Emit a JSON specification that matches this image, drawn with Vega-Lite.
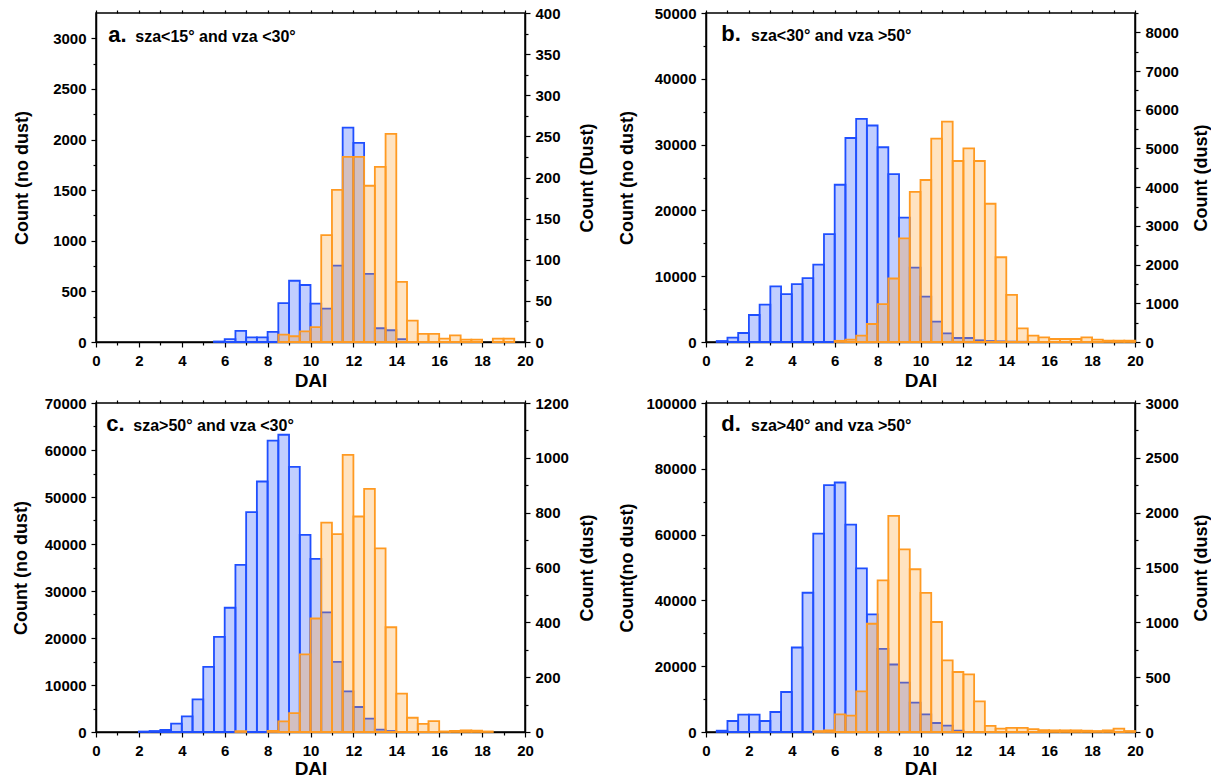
{
  "$schema": "https://vega.github.io/schema/vega-lite/v6.json",
  "padding": {"left": 11, "top": 5, "right": 0, "bottom": 0},
  "background": "white",
  "data": {"values": [
    {"panel": "a", "series": "no dust", "bin_start": 5.5, "bin_end": 6.0, "count": 5},
    {"panel": "a", "series": "no dust", "bin_start": 6.0, "bin_end": 6.5, "count": 28},
    {"panel": "a", "series": "no dust", "bin_start": 6.5, "bin_end": 7.0, "count": 110},
    {"panel": "a", "series": "no dust", "bin_start": 7.0, "bin_end": 7.5, "count": 45},
    {"panel": "a", "series": "no dust", "bin_start": 7.5, "bin_end": 8.0, "count": 45},
    {"panel": "a", "series": "no dust", "bin_start": 8.0, "bin_end": 8.5, "count": 100},
    {"panel": "a", "series": "no dust", "bin_start": 8.5, "bin_end": 9.0, "count": 385},
    {"panel": "a", "series": "no dust", "bin_start": 9.0, "bin_end": 9.5, "count": 605},
    {"panel": "a", "series": "no dust", "bin_start": 9.5, "bin_end": 10.0, "count": 563},
    {"panel": "a", "series": "no dust", "bin_start": 10.0, "bin_end": 10.5, "count": 380},
    {"panel": "a", "series": "no dust", "bin_start": 10.5, "bin_end": 11.0, "count": 330},
    {"panel": "a", "series": "no dust", "bin_start": 11.0, "bin_end": 11.5, "count": 755},
    {"panel": "a", "series": "no dust", "bin_start": 11.5, "bin_end": 12.0, "count": 2117},
    {"panel": "a", "series": "no dust", "bin_start": 12.0, "bin_end": 12.5, "count": 1968},
    {"panel": "a", "series": "no dust", "bin_start": 12.5, "bin_end": 13.0, "count": 672},
    {"panel": "a", "series": "no dust", "bin_start": 13.0, "bin_end": 13.5, "count": 136},
    {"panel": "a", "series": "no dust", "bin_start": 13.5, "bin_end": 14.0, "count": 116},
    {"panel": "a", "series": "no dust", "bin_start": 14.0, "bin_end": 14.5, "count": 28},
    {"panel": "a", "series": "dust", "bin_start": 8.5, "bin_end": 9.0, "count": 9},
    {"panel": "a", "series": "dust", "bin_start": 9.0, "bin_end": 9.5, "count": 7},
    {"panel": "a", "series": "dust", "bin_start": 9.5, "bin_end": 10.0, "count": 13},
    {"panel": "a", "series": "dust", "bin_start": 10.0, "bin_end": 10.5, "count": 18},
    {"panel": "a", "series": "dust", "bin_start": 10.5, "bin_end": 11.0, "count": 130},
    {"panel": "a", "series": "dust", "bin_start": 11.0, "bin_end": 11.5, "count": 185},
    {"panel": "a", "series": "dust", "bin_start": 11.5, "bin_end": 12.0, "count": 225},
    {"panel": "a", "series": "dust", "bin_start": 12.0, "bin_end": 12.5, "count": 225},
    {"panel": "a", "series": "dust", "bin_start": 12.5, "bin_end": 13.0, "count": 190},
    {"panel": "a", "series": "dust", "bin_start": 13.0, "bin_end": 13.5, "count": 213},
    {"panel": "a", "series": "dust", "bin_start": 13.5, "bin_end": 14.0, "count": 253},
    {"panel": "a", "series": "dust", "bin_start": 14.0, "bin_end": 14.5, "count": 73},
    {"panel": "a", "series": "dust", "bin_start": 14.5, "bin_end": 15.0, "count": 26},
    {"panel": "a", "series": "dust", "bin_start": 15.0, "bin_end": 15.5, "count": 10},
    {"panel": "a", "series": "dust", "bin_start": 15.5, "bin_end": 16.0, "count": 10},
    {"panel": "a", "series": "dust", "bin_start": 16.0, "bin_end": 16.5, "count": 4},
    {"panel": "a", "series": "dust", "bin_start": 16.5, "bin_end": 17.0, "count": 8},
    {"panel": "a", "series": "dust", "bin_start": 17.0, "bin_end": 17.5, "count": 3},
    {"panel": "a", "series": "dust", "bin_start": 17.5, "bin_end": 18.0, "count": 3},
    {"panel": "a", "series": "dust", "bin_start": 18.5, "bin_end": 19.0, "count": 4},
    {"panel": "a", "series": "dust", "bin_start": 19.0, "bin_end": 19.5, "count": 4},

    {"panel": "b", "series": "no dust", "bin_start": 0.5, "bin_end": 1.0, "count": 150},
    {"panel": "b", "series": "no dust", "bin_start": 1.0, "bin_end": 1.5, "count": 650},
    {"panel": "b", "series": "no dust", "bin_start": 1.5, "bin_end": 2.0, "count": 1370},
    {"panel": "b", "series": "no dust", "bin_start": 2.0, "bin_end": 2.5, "count": 4100},
    {"panel": "b", "series": "no dust", "bin_start": 2.5, "bin_end": 3.0, "count": 5670},
    {"panel": "b", "series": "no dust", "bin_start": 3.0, "bin_end": 3.5, "count": 8460},
    {"panel": "b", "series": "no dust", "bin_start": 3.5, "bin_end": 4.0, "count": 7290},
    {"panel": "b", "series": "no dust", "bin_start": 4.0, "bin_end": 4.5, "count": 8800},
    {"panel": "b", "series": "no dust", "bin_start": 4.5, "bin_end": 5.0, "count": 9700},
    {"panel": "b", "series": "no dust", "bin_start": 5.0, "bin_end": 5.5, "count": 11750},
    {"panel": "b", "series": "no dust", "bin_start": 5.5, "bin_end": 6.0, "count": 16400},
    {"panel": "b", "series": "no dust", "bin_start": 6.0, "bin_end": 6.5, "count": 23900},
    {"panel": "b", "series": "no dust", "bin_start": 6.5, "bin_end": 7.0, "count": 31000},
    {"panel": "b", "series": "no dust", "bin_start": 7.0, "bin_end": 7.5, "count": 33900},
    {"panel": "b", "series": "no dust", "bin_start": 7.5, "bin_end": 8.0, "count": 32900},
    {"panel": "b", "series": "no dust", "bin_start": 8.0, "bin_end": 8.5, "count": 29600},
    {"panel": "b", "series": "no dust", "bin_start": 8.5, "bin_end": 9.0, "count": 25500},
    {"panel": "b", "series": "no dust", "bin_start": 9.0, "bin_end": 9.5, "count": 18900},
    {"panel": "b", "series": "no dust", "bin_start": 9.5, "bin_end": 10.0, "count": 11300},
    {"panel": "b", "series": "no dust", "bin_start": 10.0, "bin_end": 10.5, "count": 6900},
    {"panel": "b", "series": "no dust", "bin_start": 10.5, "bin_end": 11.0, "count": 3090},
    {"panel": "b", "series": "no dust", "bin_start": 11.0, "bin_end": 11.5, "count": 1320},
    {"panel": "b", "series": "no dust", "bin_start": 11.5, "bin_end": 12.0, "count": 610},
    {"panel": "b", "series": "no dust", "bin_start": 12.0, "bin_end": 12.5, "count": 610},
    {"panel": "b", "series": "no dust", "bin_start": 12.5, "bin_end": 13.0, "count": 260},
    {"panel": "b", "series": "no dust", "bin_start": 13.0, "bin_end": 13.5, "count": 150},
    {"panel": "b", "series": "no dust", "bin_start": 13.5, "bin_end": 14.0, "count": 100},
    {"panel": "b", "series": "no dust", "bin_start": 14.0, "bin_end": 14.5, "count": 60},
    {"panel": "b", "series": "no dust", "bin_start": 14.5, "bin_end": 15.0, "count": 40},
    {"panel": "b", "series": "dust", "bin_start": 6.0, "bin_end": 6.5, "count": 30},
    {"panel": "b", "series": "dust", "bin_start": 6.5, "bin_end": 7.0, "count": 60},
    {"panel": "b", "series": "dust", "bin_start": 7.0, "bin_end": 7.5, "count": 163},
    {"panel": "b", "series": "dust", "bin_start": 7.5, "bin_end": 8.0, "count": 465},
    {"panel": "b", "series": "dust", "bin_start": 8.0, "bin_end": 8.5, "count": 980},
    {"panel": "b", "series": "dust", "bin_start": 8.5, "bin_end": 9.0, "count": 1640},
    {"panel": "b", "series": "dust", "bin_start": 9.0, "bin_end": 9.5, "count": 2675},
    {"panel": "b", "series": "dust", "bin_start": 9.5, "bin_end": 10.0, "count": 3880},
    {"panel": "b", "series": "dust", "bin_start": 10.0, "bin_end": 10.5, "count": 4185},
    {"panel": "b", "series": "dust", "bin_start": 10.5, "bin_end": 11.0, "count": 5255},
    {"panel": "b", "series": "dust", "bin_start": 11.0, "bin_end": 11.5, "count": 5695},
    {"panel": "b", "series": "dust", "bin_start": 11.5, "bin_end": 12.0, "count": 4676},
    {"panel": "b", "series": "dust", "bin_start": 12.0, "bin_end": 12.5, "count": 5004},
    {"panel": "b", "series": "dust", "bin_start": 12.5, "bin_end": 13.0, "count": 4676},
    {"panel": "b", "series": "dust", "bin_start": 13.0, "bin_end": 13.5, "count": 3572},
    {"panel": "b", "series": "dust", "bin_start": 13.5, "bin_end": 14.0, "count": 2190},
    {"panel": "b", "series": "dust", "bin_start": 14.0, "bin_end": 14.5, "count": 1220},
    {"panel": "b", "series": "dust", "bin_start": 14.5, "bin_end": 15.0, "count": 354},
    {"panel": "b", "series": "dust", "bin_start": 15.0, "bin_end": 15.5, "count": 163},
    {"panel": "b", "series": "dust", "bin_start": 15.5, "bin_end": 16.0, "count": 120},
    {"panel": "b", "series": "dust", "bin_start": 16.0, "bin_end": 16.5, "count": 78},
    {"panel": "b", "series": "dust", "bin_start": 16.5, "bin_end": 17.0, "count": 78},
    {"panel": "b", "series": "dust", "bin_start": 17.0, "bin_end": 17.5, "count": 78},
    {"panel": "b", "series": "dust", "bin_start": 17.5, "bin_end": 18.0, "count": 120},
    {"panel": "b", "series": "dust", "bin_start": 18.0, "bin_end": 18.5, "count": 60},
    {"panel": "b", "series": "dust", "bin_start": 18.5, "bin_end": 19.0, "count": 35},
    {"panel": "b", "series": "dust", "bin_start": 19.0, "bin_end": 19.5, "count": 35},
    {"panel": "b", "series": "dust", "bin_start": 19.5, "bin_end": 20.0, "count": 35},

    {"panel": "c", "series": "no dust", "bin_start": 2.0, "bin_end": 2.5, "count": 100},
    {"panel": "c", "series": "no dust", "bin_start": 2.5, "bin_end": 3.0, "count": 210},
    {"panel": "c", "series": "no dust", "bin_start": 3.0, "bin_end": 3.5, "count": 430},
    {"panel": "c", "series": "no dust", "bin_start": 3.5, "bin_end": 4.0, "count": 1770},
    {"panel": "c", "series": "no dust", "bin_start": 4.0, "bin_end": 4.5, "count": 3340},
    {"panel": "c", "series": "no dust", "bin_start": 4.5, "bin_end": 5.0, "count": 6950},
    {"panel": "c", "series": "no dust", "bin_start": 5.0, "bin_end": 5.5, "count": 13860},
    {"panel": "c", "series": "no dust", "bin_start": 5.5, "bin_end": 6.0, "count": 20260},
    {"panel": "c", "series": "no dust", "bin_start": 6.0, "bin_end": 6.5, "count": 26440},
    {"panel": "c", "series": "no dust", "bin_start": 6.5, "bin_end": 7.0, "count": 35540},
    {"panel": "c", "series": "no dust", "bin_start": 7.0, "bin_end": 7.5, "count": 46770},
    {"panel": "c", "series": "no dust", "bin_start": 7.5, "bin_end": 8.0, "count": 53300},
    {"panel": "c", "series": "no dust", "bin_start": 8.0, "bin_end": 8.5, "count": 61980},
    {"panel": "c", "series": "no dust", "bin_start": 8.5, "bin_end": 9.0, "count": 63250},
    {"panel": "c", "series": "no dust", "bin_start": 9.0, "bin_end": 9.5, "count": 56430},
    {"panel": "c", "series": "no dust", "bin_start": 9.5, "bin_end": 10.0, "count": 41930},
    {"panel": "c", "series": "no dust", "bin_start": 10.0, "bin_end": 10.5, "count": 36820},
    {"panel": "c", "series": "no dust", "bin_start": 10.5, "bin_end": 11.0, "count": 25440},
    {"panel": "c", "series": "no dust", "bin_start": 11.0, "bin_end": 11.5, "count": 14930},
    {"panel": "c", "series": "no dust", "bin_start": 11.5, "bin_end": 12.0, "count": 8650},
    {"panel": "c", "series": "no dust", "bin_start": 12.0, "bin_end": 12.5, "count": 5320},
    {"panel": "c", "series": "no dust", "bin_start": 12.5, "bin_end": 13.0, "count": 2840},
    {"panel": "c", "series": "no dust", "bin_start": 13.0, "bin_end": 13.5, "count": 500},
    {"panel": "c", "series": "no dust", "bin_start": 13.5, "bin_end": 14.0, "count": 210},
    {"panel": "c", "series": "dust", "bin_start": 6.5, "bin_end": 7.0, "count": 3},
    {"panel": "c", "series": "dust", "bin_start": 8.0, "bin_end": 8.5, "count": 4},
    {"panel": "c", "series": "dust", "bin_start": 8.5, "bin_end": 9.0, "count": 39},
    {"panel": "c", "series": "dust", "bin_start": 9.0, "bin_end": 9.5, "count": 69},
    {"panel": "c", "series": "dust", "bin_start": 9.5, "bin_end": 10.0, "count": 283},
    {"panel": "c", "series": "dust", "bin_start": 10.0, "bin_end": 10.5, "count": 414},
    {"panel": "c", "series": "dust", "bin_start": 10.5, "bin_end": 11.0, "count": 764},
    {"panel": "c", "series": "dust", "bin_start": 11.0, "bin_end": 11.5, "count": 722},
    {"panel": "c", "series": "dust", "bin_start": 11.5, "bin_end": 12.0, "count": 1011},
    {"panel": "c", "series": "dust", "bin_start": 12.0, "bin_end": 12.5, "count": 786},
    {"panel": "c", "series": "dust", "bin_start": 12.5, "bin_end": 13.0, "count": 887},
    {"panel": "c", "series": "dust", "bin_start": 13.0, "bin_end": 13.5, "count": 670},
    {"panel": "c", "series": "dust", "bin_start": 13.5, "bin_end": 14.0, "count": 382},
    {"panel": "c", "series": "dust", "bin_start": 14.0, "bin_end": 14.5, "count": 140},
    {"panel": "c", "series": "dust", "bin_start": 14.5, "bin_end": 15.0, "count": 52},
    {"panel": "c", "series": "dust", "bin_start": 15.0, "bin_end": 15.5, "count": 30},
    {"panel": "c", "series": "dust", "bin_start": 15.5, "bin_end": 16.0, "count": 40},
    {"panel": "c", "series": "dust", "bin_start": 16.0, "bin_end": 16.5, "count": 2},
    {"panel": "c", "series": "dust", "bin_start": 16.5, "bin_end": 17.0, "count": 4},
    {"panel": "c", "series": "dust", "bin_start": 17.0, "bin_end": 17.5, "count": 6},
    {"panel": "c", "series": "dust", "bin_start": 17.5, "bin_end": 18.0, "count": 5},
    {"panel": "c", "series": "dust", "bin_start": 18.0, "bin_end": 18.5, "count": 2},

    {"panel": "d", "series": "no dust", "bin_start": 0.5, "bin_end": 1.0, "count": 400},
    {"panel": "d", "series": "no dust", "bin_start": 1.0, "bin_end": 1.5, "count": 3340},
    {"panel": "d", "series": "no dust", "bin_start": 1.5, "bin_end": 2.0, "count": 5270},
    {"panel": "d", "series": "no dust", "bin_start": 2.0, "bin_end": 2.5, "count": 5270},
    {"panel": "d", "series": "no dust", "bin_start": 2.5, "bin_end": 3.0, "count": 3340},
    {"panel": "d", "series": "no dust", "bin_start": 3.0, "bin_end": 3.5, "count": 6080},
    {"panel": "d", "series": "no dust", "bin_start": 3.5, "bin_end": 4.0, "count": 12160},
    {"panel": "d", "series": "no dust", "bin_start": 4.0, "bin_end": 4.5, "count": 25690},
    {"panel": "d", "series": "no dust", "bin_start": 4.5, "bin_end": 5.0, "count": 42330},
    {"panel": "d", "series": "no dust", "bin_start": 5.0, "bin_end": 5.5, "count": 60300},
    {"panel": "d", "series": "no dust", "bin_start": 5.5, "bin_end": 6.0, "count": 75030},
    {"panel": "d", "series": "no dust", "bin_start": 6.0, "bin_end": 6.5, "count": 75840},
    {"panel": "d", "series": "no dust", "bin_start": 6.5, "bin_end": 7.0, "count": 63050},
    {"panel": "d", "series": "no dust", "bin_start": 7.0, "bin_end": 7.5, "count": 49750},
    {"panel": "d", "series": "no dust", "bin_start": 7.5, "bin_end": 8.0, "count": 35740},
    {"panel": "d", "series": "no dust", "bin_start": 8.0, "bin_end": 8.5, "count": 25280},
    {"panel": "d", "series": "no dust", "bin_start": 8.5, "bin_end": 9.0, "count": 20510},
    {"panel": "d", "series": "no dust", "bin_start": 9.0, "bin_end": 9.5, "count": 15030},
    {"panel": "d", "series": "no dust", "bin_start": 9.5, "bin_end": 10.0, "count": 8920},
    {"panel": "d", "series": "no dust", "bin_start": 10.0, "bin_end": 10.5, "count": 5370},
    {"panel": "d", "series": "no dust", "bin_start": 10.5, "bin_end": 11.0, "count": 2740},
    {"panel": "d", "series": "no dust", "bin_start": 11.0, "bin_end": 11.5, "count": 1930},
    {"panel": "d", "series": "no dust", "bin_start": 11.5, "bin_end": 12.0, "count": 400},
    {"panel": "d", "series": "dust", "bin_start": 5.0, "bin_end": 5.5, "count": 8},
    {"panel": "d", "series": "dust", "bin_start": 5.5, "bin_end": 6.0, "count": 15},
    {"panel": "d", "series": "dust", "bin_start": 6.0, "bin_end": 6.5, "count": 160},
    {"panel": "d", "series": "dust", "bin_start": 6.5, "bin_end": 7.0, "count": 150},
    {"panel": "d", "series": "dust", "bin_start": 7.0, "bin_end": 7.5, "count": 371},
    {"panel": "d", "series": "dust", "bin_start": 7.5, "bin_end": 8.0, "count": 987},
    {"panel": "d", "series": "dust", "bin_start": 8.0, "bin_end": 8.5, "count": 1383},
    {"panel": "d", "series": "dust", "bin_start": 8.5, "bin_end": 9.0, "count": 1970},
    {"panel": "d", "series": "dust", "bin_start": 9.0, "bin_end": 9.5, "count": 1666},
    {"panel": "d", "series": "dust", "bin_start": 9.5, "bin_end": 10.0, "count": 1484},
    {"panel": "d", "series": "dust", "bin_start": 10.0, "bin_end": 10.5, "count": 1268},
    {"panel": "d", "series": "dust", "bin_start": 10.5, "bin_end": 11.0, "count": 1003},
    {"panel": "d", "series": "dust", "bin_start": 11.0, "bin_end": 11.5, "count": 654},
    {"panel": "d", "series": "dust", "bin_start": 11.5, "bin_end": 12.0, "count": 547},
    {"panel": "d", "series": "dust", "bin_start": 12.0, "bin_end": 12.5, "count": 526},
    {"panel": "d", "series": "dust", "bin_start": 12.5, "bin_end": 13.0, "count": 280},
    {"panel": "d", "series": "dust", "bin_start": 13.0, "bin_end": 13.5, "count": 55},
    {"panel": "d", "series": "dust", "bin_start": 13.5, "bin_end": 14.0, "count": 30},
    {"panel": "d", "series": "dust", "bin_start": 14.0, "bin_end": 14.5, "count": 37},
    {"panel": "d", "series": "dust", "bin_start": 14.5, "bin_end": 15.0, "count": 37},
    {"panel": "d", "series": "dust", "bin_start": 15.0, "bin_end": 15.5, "count": 27},
    {"panel": "d", "series": "dust", "bin_start": 15.5, "bin_end": 16.0, "count": 18},
    {"panel": "d", "series": "dust", "bin_start": 16.0, "bin_end": 16.5, "count": 15},
    {"panel": "d", "series": "dust", "bin_start": 16.5, "bin_end": 17.0, "count": 15},
    {"panel": "d", "series": "dust", "bin_start": 17.0, "bin_end": 17.5, "count": 15},
    {"panel": "d", "series": "dust", "bin_start": 17.5, "bin_end": 18.0, "count": 12},
    {"panel": "d", "series": "dust", "bin_start": 18.0, "bin_end": 18.5, "count": 9},
    {"panel": "d", "series": "dust", "bin_start": 18.5, "bin_end": 19.0, "count": 15},
    {"panel": "d", "series": "dust", "bin_start": 19.0, "bin_end": 19.5, "count": 30},
    {"panel": "d", "series": "dust", "bin_start": 19.5, "bin_end": 20.0, "count": 9}
  ]},
  "vconcat": [
    {"hconcat": [
      {"width": 429, "height": 329,
       "layer": [
        {"transform": [{"filter": "datum.panel === 'a' && datum.series === 'no dust'"}],
         "mark": {"type": "bar", "fill": "#1f4fff", "fillOpacity": 0.28, "stroke": "#1f4fff", "strokeWidth": 1.8},
         "encoding": {
           "x": {"field": "bin_start", "type": "quantitative", "scale": {"domain": [0, 20], "nice": false},
                 "axis": {"orient": "bottom", "values": [0,1,2,3,4,5,6,7,8,9,10,11,12,13,14,15,16,17,18,19,20], "labelExpr": "datum.value % 2 === 0 ? datum.label : ''", "tickSize": {"condition": {"test": "datum.value % 2 === 0", "value": 5}, "value": 3}, "labelPadding": 6, "title": "DAI", "titleFontSize": 19, "titleY": 44, "titleBaseline": "alphabetic"}},
           "x2": {"field": "bin_end"},
           "y": {"field": "count", "type": "quantitative", "scale": {"domain": [0, 3250], "nice": false},
                 "axis": {"orient": "left", "values": [0,250,500,750,1000,1250,1500,1750,2000,2250,2500,2750,3000], "labelExpr": "datum.value % 500 === 0 ? datum.label : ''", "tickSize": {"condition": {"test": "datum.value % 500 === 0", "value": 5}, "value": 3}, "title": "Count (no dust)", "titleX": -74, "titleBaseline": "middle", "titleAngle": -90}},
           "y2": {"datum": 0}
         }},
        {"transform": [{"filter": "datum.panel === 'a' && datum.series === 'dust'"}],
         "mark": {"type": "bar", "fill": "#ff9a22", "fillOpacity": 0.28, "stroke": "#ff9a22", "strokeWidth": 1.8},
         "encoding": {
           "x": {"field": "bin_start", "type": "quantitative", "scale": {"domain": [0, 20], "nice": false},
                 "axis": {"orient": "top", "values": [0,1,2,3,4,5,6,7,8,9,10,11,12,13,14,15,16,17,18,19,20], "labels": false, "title": null, "domain": false, "tickSize": 3}},
           "x2": {"field": "bin_end"},
           "y": {"field": "count", "type": "quantitative", "scale": {"domain": [0, 400], "nice": false},
                 "axis": {"orient": "right", "values": [0,25,50,75,100,125,150,175,200,225,250,275,300,325,350,375,400], "labelExpr": "datum.value % 50 === 0 ? datum.label : ''", "tickSize": {"condition": {"test": "datum.value % 50 === 0", "value": 5}, "value": 3}, "title": "Count (Dust)", "titleX": 62, "titleBaseline": "middle", "titleAngle": -90}},
           "y2": {"datum": 0}
         }},
        {"data": {"values": [{}]},
         "mark": {"type": "text", "text": "a.", "font": "Liberation Sans", "fontSize": 22, "fontWeight": "bold", "align": "left", "baseline": "alphabetic", "color": "black"},
         "encoding": {"x": {"datum": 0.57, "type": "quantitative", "axis": null}, "y": {"datum": 2964, "type": "quantitative", "scale": {"domain": [0, 3250], "nice": false}, "axis": null}}},
        {"data": {"values": [{}]},
         "mark": {"type": "text", "text": "sza<15° and vza <30°", "font": "Liberation Sans", "fontSize": 16, "fontWeight": "bold", "align": "left", "baseline": "alphabetic", "color": "black"},
         "encoding": {"x": {"datum": 1.83, "type": "quantitative", "axis": null}, "y": {"datum": 2964, "type": "quantitative", "scale": {"domain": [0, 3250], "nice": false}, "axis": null}}}
       ],
       "resolve": {"scale": {"y": "independent"}, "axis": {"x": "independent"}}
      },
      {"width": 429, "height": 329,
       "layer": [
        {"transform": [{"filter": "datum.panel === 'b' && datum.series === 'no dust'"}],
         "mark": {"type": "bar", "fill": "#1f4fff", "fillOpacity": 0.28, "stroke": "#1f4fff", "strokeWidth": 1.8},
         "encoding": {
           "x": {"field": "bin_start", "type": "quantitative", "scale": {"domain": [0, 20], "nice": false},
                 "axis": {"orient": "bottom", "values": [0,1,2,3,4,5,6,7,8,9,10,11,12,13,14,15,16,17,18,19,20], "labelExpr": "datum.value % 2 === 0 ? datum.label : ''", "tickSize": {"condition": {"test": "datum.value % 2 === 0", "value": 5}, "value": 3}, "labelPadding": 6, "title": "DAI", "titleFontSize": 19, "titleY": 44, "titleBaseline": "alphabetic"}},
           "x2": {"field": "bin_end"},
           "y": {"field": "count", "type": "quantitative", "scale": {"domain": [0, 50000], "nice": false},
                 "axis": {"orient": "left", "values": [0,5000,10000,15000,20000,25000,30000,35000,40000,45000,50000], "labelExpr": "datum.value % 10000 === 0 ? datum.label : ''", "tickSize": {"condition": {"test": "datum.value % 10000 === 0", "value": 5}, "value": 3}, "title": "Count (no dust)", "titleX": -79, "titleBaseline": "middle", "titleAngle": -90}},
           "y2": {"datum": 0}
         }},
        {"transform": [{"filter": "datum.panel === 'b' && datum.series === 'dust'"}],
         "mark": {"type": "bar", "fill": "#ff9a22", "fillOpacity": 0.28, "stroke": "#ff9a22", "strokeWidth": 1.8},
         "encoding": {
           "x": {"field": "bin_start", "type": "quantitative", "scale": {"domain": [0, 20], "nice": false},
                 "axis": {"orient": "top", "values": [0,1,2,3,4,5,6,7,8,9,10,11,12,13,14,15,16,17,18,19,20], "labels": false, "title": null, "domain": false, "tickSize": 3}},
           "x2": {"field": "bin_end"},
           "y": {"field": "count", "type": "quantitative", "scale": {"domain": [0, 8500], "nice": false},
                 "axis": {"orient": "right", "values": [0,500,1000,1500,2000,2500,3000,3500,4000,4500,5000,5500,6000,6500,7000,7500,8000,8500], "labelExpr": "datum.value % 1000 === 0 ? datum.label : ''", "tickSize": {"condition": {"test": "datum.value % 1000 === 0", "value": 5}, "value": 3}, "title": "Count (dust)", "titleX": 66, "titleBaseline": "middle", "titleAngle": -90}},
           "y2": {"datum": 0}
         }},
        {"data": {"values": [{}]},
         "mark": {"type": "text", "text": "b.", "font": "Liberation Sans", "fontSize": 22, "fontWeight": "bold", "align": "left", "baseline": "alphabetic", "color": "black"},
         "encoding": {"x": {"datum": 0.71, "type": "quantitative", "axis": null}, "y": {"datum": 45750, "type": "quantitative", "scale": {"domain": [0, 50000], "nice": false}, "axis": null}}},
        {"data": {"values": [{}]},
         "mark": {"type": "text", "text": "sza<30° and vza >50°", "font": "Liberation Sans", "fontSize": 16, "fontWeight": "bold", "align": "left", "baseline": "alphabetic", "color": "black"},
         "encoding": {"x": {"datum": 2.1, "type": "quantitative", "axis": null}, "y": {"datum": 45750, "type": "quantitative", "scale": {"domain": [0, 50000], "nice": false}, "axis": null}}}
       ],
       "resolve": {"scale": {"y": "independent"}, "axis": {"x": "independent"}}
      }
    ], "spacing": 20},
    {"hconcat": [
      {"width": 429, "height": 329,
       "layer": [
        {"transform": [{"filter": "datum.panel === 'c' && datum.series === 'no dust'"}],
         "mark": {"type": "bar", "fill": "#1f4fff", "fillOpacity": 0.28, "stroke": "#1f4fff", "strokeWidth": 1.8},
         "encoding": {
           "x": {"field": "bin_start", "type": "quantitative", "scale": {"domain": [0, 20], "nice": false},
                 "axis": {"orient": "bottom", "values": [0,1,2,3,4,5,6,7,8,9,10,11,12,13,14,15,16,17,18,19,20], "labelExpr": "datum.value % 2 === 0 ? datum.label : ''", "tickSize": {"condition": {"test": "datum.value % 2 === 0", "value": 5}, "value": 3}, "labelPadding": 6, "title": "DAI", "titleFontSize": 19, "titleY": 42, "titleBaseline": "alphabetic"}},
           "x2": {"field": "bin_end"},
           "y": {"field": "count", "type": "quantitative", "scale": {"domain": [0, 70000], "nice": false},
                 "axis": {"orient": "left", "values": [0,5000,10000,15000,20000,25000,30000,35000,40000,45000,50000,55000,60000,65000,70000], "labelExpr": "datum.value % 10000 === 0 ? datum.label : ''", "tickSize": {"condition": {"test": "datum.value % 10000 === 0", "value": 5}, "value": 3}, "title": "Count (no dust)", "titleX": -75, "titleBaseline": "middle", "titleAngle": -90}},
           "y2": {"datum": 0}
         }},
        {"transform": [{"filter": "datum.panel === 'c' && datum.series === 'dust'"}],
         "mark": {"type": "bar", "fill": "#ff9a22", "fillOpacity": 0.28, "stroke": "#ff9a22", "strokeWidth": 1.8},
         "encoding": {
           "x": {"field": "bin_start", "type": "quantitative", "scale": {"domain": [0, 20], "nice": false},
                 "axis": {"orient": "top", "values": [0,1,2,3,4,5,6,7,8,9,10,11,12,13,14,15,16,17,18,19,20], "labels": false, "title": null, "domain": false, "tickSize": 3}},
           "x2": {"field": "bin_end"},
           "y": {"field": "count", "type": "quantitative", "scale": {"domain": [0, 1200], "nice": false},
                 "axis": {"orient": "right", "values": [0,100,200,300,400,500,600,700,800,900,1000,1100,1200], "labelExpr": "datum.value % 200 === 0 ? datum.label : ''", "tickSize": {"condition": {"test": "datum.value % 200 === 0", "value": 5}, "value": 3}, "title": "Count (dust)", "titleX": 62, "titleBaseline": "middle", "titleAngle": -90}},
           "y2": {"datum": 0}
         }},
        {"data": {"values": [{}]},
         "mark": {"type": "text", "text": "c.", "font": "Liberation Sans", "fontSize": 22, "fontWeight": "bold", "align": "left", "baseline": "alphabetic", "color": "black"},
         "encoding": {"x": {"datum": 0.48, "type": "quantitative", "axis": null}, "y": {"datum": 64050, "type": "quantitative", "scale": {"domain": [0, 70000], "nice": false}, "axis": null}}},
        {"data": {"values": [{}]},
         "mark": {"type": "text", "text": "sza>50° and vza <30°", "font": "Liberation Sans", "fontSize": 16, "fontWeight": "bold", "align": "left", "baseline": "alphabetic", "color": "black"},
         "encoding": {"x": {"datum": 1.74, "type": "quantitative", "axis": null}, "y": {"datum": 64050, "type": "quantitative", "scale": {"domain": [0, 70000], "nice": false}, "axis": null}}}
       ],
       "resolve": {"scale": {"y": "independent"}, "axis": {"x": "independent"}}
      },
      {"width": 429, "height": 329,
       "layer": [
        {"transform": [{"filter": "datum.panel === 'd' && datum.series === 'no dust'"}],
         "mark": {"type": "bar", "fill": "#1f4fff", "fillOpacity": 0.28, "stroke": "#1f4fff", "strokeWidth": 1.8},
         "encoding": {
           "x": {"field": "bin_start", "type": "quantitative", "scale": {"domain": [0, 20], "nice": false},
                 "axis": {"orient": "bottom", "values": [0,1,2,3,4,5,6,7,8,9,10,11,12,13,14,15,16,17,18,19,20], "labelExpr": "datum.value % 2 === 0 ? datum.label : ''", "tickSize": {"condition": {"test": "datum.value % 2 === 0", "value": 5}, "value": 3}, "labelPadding": 6, "title": "DAI", "titleFontSize": 19, "titleY": 42, "titleBaseline": "alphabetic"}},
           "x2": {"field": "bin_end"},
           "y": {"field": "count", "type": "quantitative", "scale": {"domain": [0, 100000], "nice": false},
                 "axis": {"orient": "left", "values": [0,10000,20000,30000,40000,50000,60000,70000,80000,90000,100000], "labelExpr": "datum.value % 20000 === 0 ? datum.label : ''", "tickSize": {"condition": {"test": "datum.value % 20000 === 0", "value": 5}, "value": 3}, "title": "Count(no dust)", "titleX": -79, "titleBaseline": "middle", "titleAngle": -90}},
           "y2": {"datum": 0}
         }},
        {"transform": [{"filter": "datum.panel === 'd' && datum.series === 'dust'"}],
         "mark": {"type": "bar", "fill": "#ff9a22", "fillOpacity": 0.28, "stroke": "#ff9a22", "strokeWidth": 1.8},
         "encoding": {
           "x": {"field": "bin_start", "type": "quantitative", "scale": {"domain": [0, 20], "nice": false},
                 "axis": {"orient": "top", "values": [0,1,2,3,4,5,6,7,8,9,10,11,12,13,14,15,16,17,18,19,20], "labels": false, "title": null, "domain": false, "tickSize": 3}},
           "x2": {"field": "bin_end"},
           "y": {"field": "count", "type": "quantitative", "scale": {"domain": [0, 3000], "nice": false},
                 "axis": {"orient": "right", "values": [0,250,500,750,1000,1250,1500,1750,2000,2250,2500,2750,3000], "labelExpr": "datum.value % 500 === 0 ? datum.label : ''", "tickSize": {"condition": {"test": "datum.value % 500 === 0", "value": 5}, "value": 3}, "title": "Count (dust)", "titleX": 66, "titleBaseline": "middle", "titleAngle": -90}},
           "y2": {"datum": 0}
         }},
        {"data": {"values": [{}]},
         "mark": {"type": "text", "text": "d.", "font": "Liberation Sans", "fontSize": 22, "fontWeight": "bold", "align": "left", "baseline": "alphabetic", "color": "black"},
         "encoding": {"x": {"datum": 0.71, "type": "quantitative", "axis": null}, "y": {"datum": 91500, "type": "quantitative", "scale": {"domain": [0, 100000], "nice": false}, "axis": null}}},
        {"data": {"values": [{}]},
         "mark": {"type": "text", "text": "sza>40° and vza >50°", "font": "Liberation Sans", "fontSize": 16, "fontWeight": "bold", "align": "left", "baseline": "alphabetic", "color": "black"},
         "encoding": {"x": {"datum": 2.1, "type": "quantitative", "axis": null}, "y": {"datum": 91500, "type": "quantitative", "scale": {"domain": [0, 100000], "nice": false}, "axis": null}}}
       ],
       "resolve": {"scale": {"y": "independent"}, "axis": {"x": "independent"}}
      }
    ], "spacing": 20}
  ],
  "spacing": 4,
  "config": {
    "font": "Liberation Sans",
    "view": {"stroke": "black", "strokeWidth": 1.5},
    "axis": {
      "labelFont": "Liberation Sans", "labelFontWeight": "bold", "labelFontSize": 15, "labelColor": "black",
      "titleFont": "Liberation Sans", "titleFontWeight": "bold", "titleFontSize": 18, "titleColor": "black",
      "grid": false, "domainColor": "black", "domainWidth": 1.5, "tickColor": "black", "tickWidth": 1.2,
      "labelPadding": 5, "format": "d", "labelFlush": false, "labelOverlap": false
    }
  }
}
